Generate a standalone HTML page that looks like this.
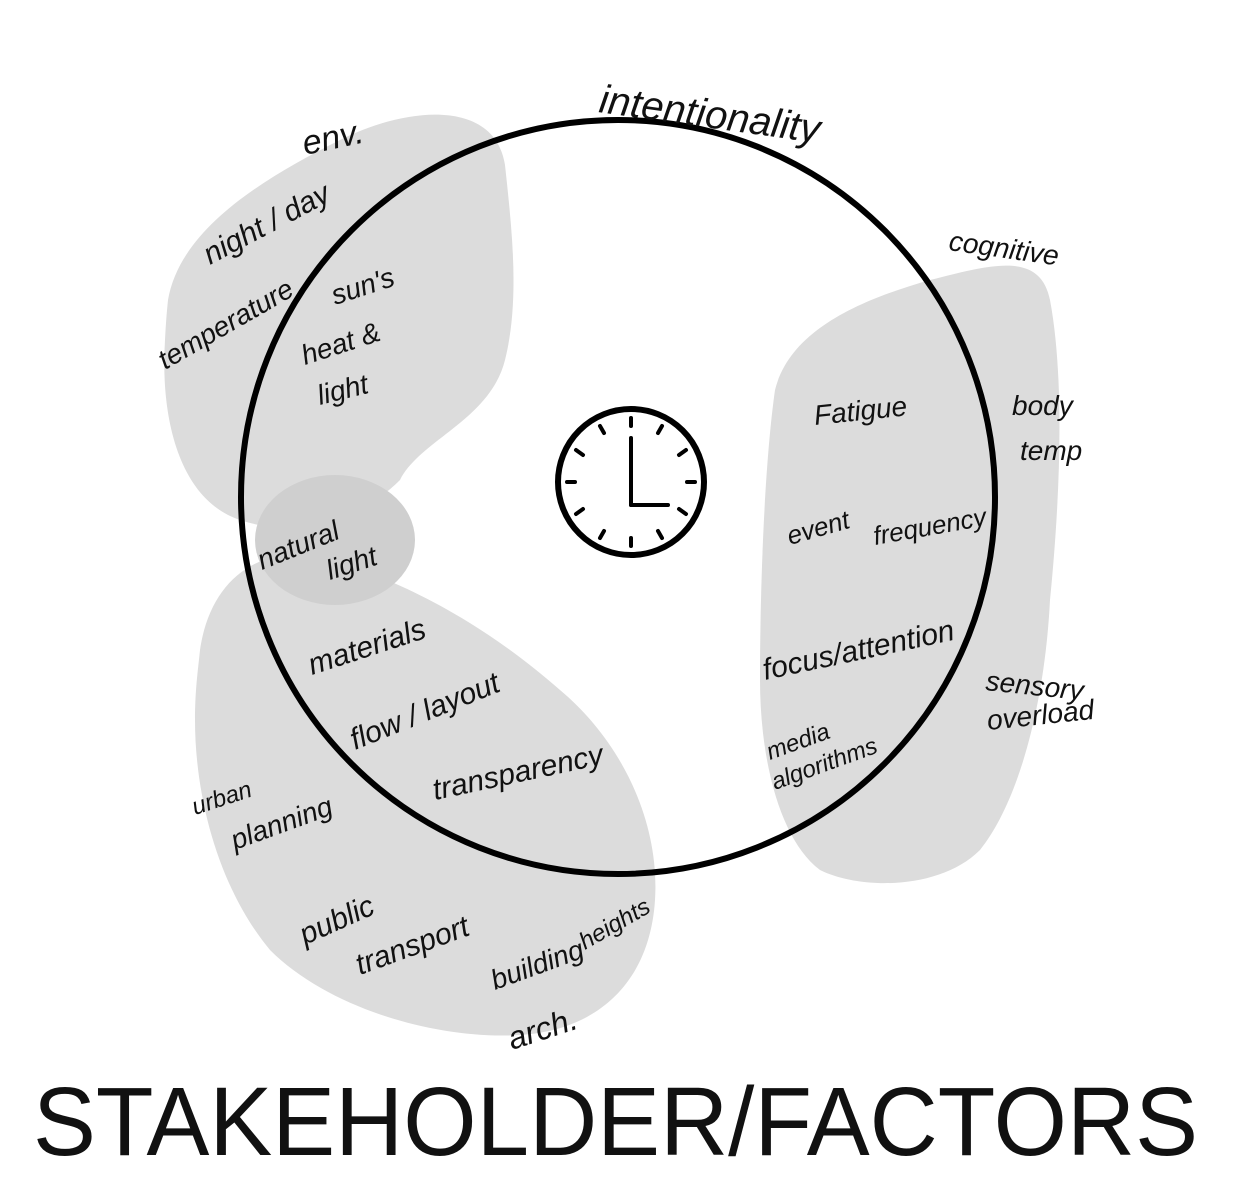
<!DOCTYPE html>
<html><head><meta charset="utf-8"><style>
html,body{margin:0;padding:0;background:#fff;width:1258px;height:1194px;overflow:hidden}
svg text.h{font-family:"Liberation Sans",sans-serif;font-style:italic;fill:#111}
</style></head><body>
<svg width="1258" height="1194" viewBox="0 0 1258 1194" xmlns="http://www.w3.org/2000/svg">
<g fill="#dcdcdc">
<path d="M168 300 C180 230 260 180 340 140 C410 105 495 100 505 165 C512 230 520 300 505 360 C490 420 420 440 400 480 C360 520 300 540 240 520 C180 500 160 420 165 340 C166 320 167 310 168 300Z"/>
<path d="M775 390 C790 330 860 300 930 280 C990 265 1040 250 1050 300 C1065 380 1060 500 1050 600 C1045 700 1020 800 980 850 C940 890 860 890 820 870 C780 840 760 760 760 680 C760 580 765 460 775 390Z"/>
<path d="M200 650 C210 580 260 540 330 560 C400 580 480 620 560 690 C620 740 660 820 655 900 C650 980 600 1030 520 1035 C440 1040 330 1010 270 950 C220 890 195 800 195 720 C195 690 198 670 200 650Z"/>
<ellipse cx="335" cy="540" rx="80" ry="65" fill="#cfcfcf"/>
</g>
<circle cx="618" cy="497" r="377" fill="none" stroke="#000" stroke-width="6"/>
<circle cx="631" cy="482" r="73" fill="#fff" stroke="#000" stroke-width="6"/>
<g stroke="#000" stroke-width="4" stroke-linecap="round">
<line x1="631" y1="438" x2="631" y2="468"/><line x1="631" y1="468" x2="631" y2="505"/><line x1="631" y1="505" x2="668" y2="505"/>
<line x1="631" y1="418" x2="631" y2="426"/><line x1="662" y1="426" x2="658" y2="433"/><line x1="686" y1="450" x2="679" y2="455"/>
<line x1="695" y1="482" x2="687" y2="482"/><line x1="686" y1="514" x2="679" y2="509"/><line x1="662" y1="538" x2="658" y2="531"/>
<line x1="631" y1="546" x2="631" y2="538"/><line x1="600" y1="538" x2="604" y2="531"/><line x1="576" y1="514" x2="583" y2="509"/>
<line x1="567" y1="482" x2="575" y2="482"/><line x1="576" y1="450" x2="583" y2="455"/><line x1="600" y1="426" x2="604" y2="433"/>
</g>
<text class="h" x="598" y="112" font-size="40" transform="rotate(8 598 112)">intentionality</text>
<text class="h" x="305" y="155" font-size="34" transform="rotate(-12 305 155)">env.</text>
<text class="h" x="210" y="265" font-size="30" transform="rotate(-28 210 265)">night / day</text>
<text class="h" x="165" y="370" font-size="28" transform="rotate(-30 165 370)">temperature</text>
<text class="h" x="335" y="305" font-size="28" transform="rotate(-18 335 305)">sun's</text>
<text class="h" x="305" y="365" font-size="28" transform="rotate(-18 305 365)">heat &amp;</text>
<text class="h" x="320" y="405" font-size="28" transform="rotate(-14 320 405)">light</text>
<text class="h" x="948" y="250" font-size="28" transform="rotate(8 948 250)">cognitive</text>
<text class="h" x="1012" y="415" font-size="28">body</text>
<text class="h" x="1020" y="460" font-size="28">temp</text>
<text class="h" x="815" y="425" font-size="28" transform="rotate(-6 815 425)">Fatigue</text>
<text class="h" x="790" y="545" font-size="26" transform="rotate(-16 790 545)">event</text>
<text class="h" x="875" y="545" font-size="26" transform="rotate(-10 875 545)">frequency</text>
<text class="h" x="262" y="570" font-size="28" transform="rotate(-22 262 570)">natural</text>
<text class="h" x="330" y="580" font-size="28" transform="rotate(-18 330 580)">light</text>
<text class="h" x="312" y="675" font-size="30" transform="rotate(-18 312 675)">materials</text>
<text class="h" x="355" y="750" font-size="30" transform="rotate(-22 355 750)">flow / layout</text>
<text class="h" x="435" y="800" font-size="30" transform="rotate(-12 435 800)">transparency</text>
<text class="h" x="765" y="680" font-size="30" transform="rotate(-12 765 680)">focus/attention</text>
<text class="h" x="985" y="690" font-size="28" transform="rotate(6 985 690)">sensory</text>
<text class="h" x="988" y="730" font-size="28" transform="rotate(-6 988 730)">overload</text>
<text class="h" x="770" y="760" font-size="24" transform="rotate(-20 770 760)">media</text>
<text class="h" x="775" y="790" font-size="24" transform="rotate(-20 775 790)">algorithms</text>
<text class="h" x="195" y="815" font-size="24" transform="rotate(-18 195 815)">urban</text>
<text class="h" x="235" y="850" font-size="28" transform="rotate(-20 235 850)">planning</text>
<text class="h" x="305" y="945" font-size="30" transform="rotate(-24 305 945)">public</text>
<text class="h" x="360" y="975" font-size="30" transform="rotate(-20 360 975)">transport</text>
<text class="h" x="495" y="990" font-size="28" transform="rotate(-20 495 990)">building</text>
<text class="h" x="585" y="950" font-size="24" transform="rotate(-30 585 950)">heights</text>
<text class="h" x="512" y="1050" font-size="32" transform="rotate(-18 512 1050)">arch.</text>
<text x="33" y="1155" font-family="Liberation Sans, sans-serif" font-size="97" fill="#111" textLength="1165" lengthAdjust="spacingAndGlyphs">STAKEHOLDER/FACTORS</text>
</svg>
</body></html>
